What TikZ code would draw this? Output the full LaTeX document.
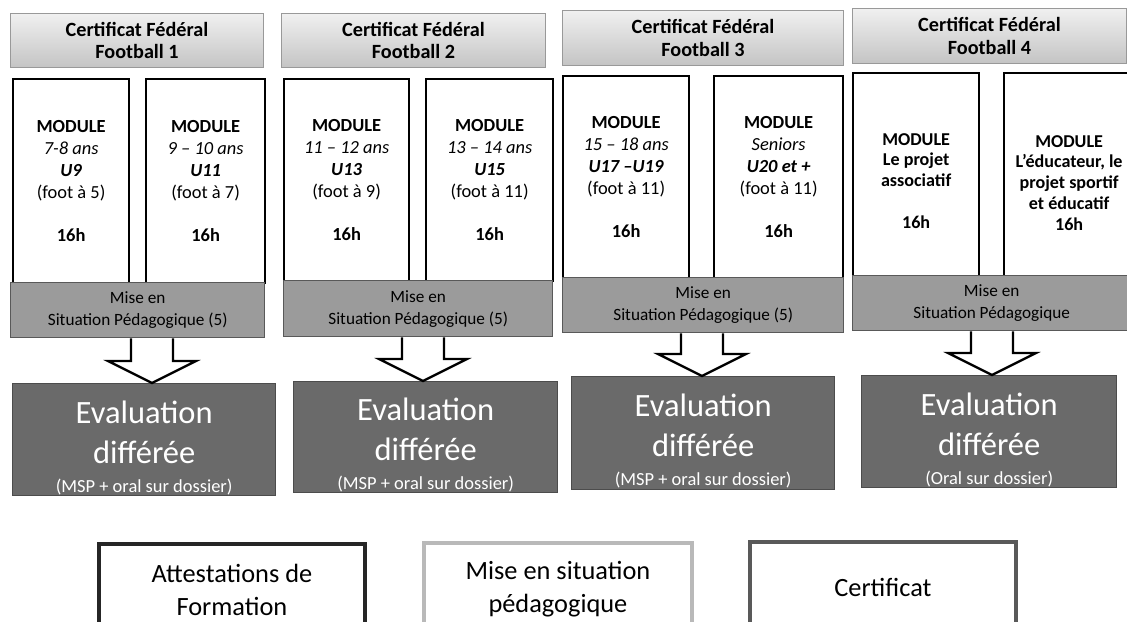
\documentclass[tikz,border=0pt]{standalone}
\usepackage{fontspec}
\setmainfont{Carlito}
\usetikzlibrary{calc}

\definecolor{mspgray}{RGB}{155,155,155}
\definecolor{evalgray}{RGB}{106,106,106}
\definecolor{headtop}{RGB}{240,240,240}
\definecolor{headbot}{RGB}{196,196,196}

\tikzset{
  sz/.style 2 args={anchor=north west, minimum width=#1*0.02cm, minimum height=#2*0.02cm, inner sep=0pt},
}

\begin{document}
\begin{tikzpicture}[x=0.02cm, y=-0.02cm,
  head/.style={draw=gray!80, line width=0.6pt, top color=headtop, bottom color=headbot, align=center,
    font=\bfseries\fontsize{11.5}{13}\selectfont},
  module/.style={draw=black, line width=1.3pt, fill=white, align=center,
    font=\fontsize{10.5}{12.5}\selectfont},
  msp/.style={draw=gray!70!black, line width=0.8pt, fill=mspgray, align=center,
    font=\fontsize{9.8}{12.5}\selectfont},
  eval/.style={draw=gray!60!black, line width=0.8pt, fill=evalgray, text=white, align=center,
    font=\fontsize{18.5}{22.5}\selectfont},
  barrow/.style={draw=black, line width=1.3pt, fill=white, line join=miter},
  legend/.style={line width=2.2pt, fill=white, align=center, font=\fontsize{15}{18.7}\selectfont}]

\clip (0,0) rectangle (1127,622);

% Certificat Federal Football 1
\node[head, sz={253}{54}] (cf1) at (10,13) {Certificat Fédéral\\Football 1};
\node[module, sz={116}{204}] (m1a) at (12,78) {\textbf{MODULE}\\\textit{7-8 ans}\\\textbf{\textit{U9}}\\(foot à 5)\\[12pt]\textbf{16h}};
\node[module, sz={119}{204}] (m1b) at (145,78) {\textbf{MODULE}\\\textit{9 – 10 ans}\\\textbf{\textit{U11}}\\(foot à 7)\\[12pt]\textbf{16h}};
\node[msp, sz={254}{55}] (msp1) at (10,282) {Mise en\\Situation Pédagogique (5)};
\node[eval, sz={263}{112}] (ev1) at (12,383) {\rule{0pt}{22pt}Evaluation\\différée\\[-6pt]{\fontsize{10.5}{12}\selectfont (MSP + oral sur dossier)}};

% Certificat Federal Football 2
\node[head, sz={264}{54}] (cf2) at (281,13) {Certificat Fédéral\\Football 2};
\node[module, sz={125}{202}] (m2a) at (283,78) {\textbf{MODULE}\\\textit{11 – 12 ans}\\\textbf{\textit{U13}}\\(foot à 9)\\[12pt]\textbf{16h}};
\node[module, sz={127}{202}] (m2b) at (425,78) {\textbf{MODULE}\\\textit{13 – 14 ans}\\\textbf{\textit{U15}}\\(foot à 11)\\[12pt]\textbf{16h}};
\node[msp, sz={269}{56}] (msp2) at (283,280) {Mise en\\Situation Pédagogique (5)};
\node[eval, sz={264}{111}] (ev2) at (293,381) {\rule{0pt}{22pt}Evaluation\\différée\\[-6pt]{\fontsize{10.5}{12}\selectfont (MSP + oral sur dossier)}};

% Certificat Federal Football 3
\node[head, sz={281}{55}] (cf3) at (562,10) {Certificat Fédéral\\Football 3};
\node[module, sz={126}{202}] (m3a) at (562,75) {\textbf{MODULE}\\\textit{15 – 18 ans}\\\textbf{\textit{U17 –U19}}\\(foot à 11)\\[12pt]\textbf{16h}};
\node[module, sz={129}{202}] (m3b) at (713,75) {\textbf{MODULE}\\\textit{Seniors}\\\textbf{\textit{U20 et +}}\\(foot à 11)\\[12pt]\textbf{16h}};
\node[msp, sz={281}{55}] (msp3) at (562,277) {Mise en\\Situation Pédagogique (5)};
\node[eval, sz={263}{113}] (ev3) at (571,376) {\rule{0pt}{22pt}Evaluation\\différée\\[-6pt]{\fontsize{10.5}{12}\selectfont (MSP + oral sur dossier)}};

% Certificat Federal Football 4
\node[head, sz={274}{55}] (cf4) at (852,8) {Certificat Fédéral\\Football 4};
\node[module, sz={126}{203}, font=\bfseries\fontsize{10.3}{11.8}\selectfont] (m4a) at (852,72) {\rule{0pt}{14pt}MODULE\\Le projet\\associatif\\[12pt]16h};
\node[module, sz={130}{203}, font=\bfseries\fontsize{10.3}{11.8}\selectfont] (m4b) at (1003,72) {\rule{0pt}{16pt}MODULE\\L’éducateur, le\\projet sportif\\et éducatif\\16h};
\node[msp, sz={278}{55}] (msp4) at (852,275) {Mise en\\Situation Pédagogique};
\node[eval, sz={255}{112}] (ev4) at (861,375) {\rule{0pt}{22pt}Evaluation\\différée\\[-6pt]{\fontsize{10.5}{12}\selectfont (Oral sur dossier)}};

% block arrows
\foreach \n/\x in {1/152,2/423,3/702,4/992}{
  \coordinate (c\n) at (\x,0);
  \draw[barrow] ($(c\n |- msp\n.south)+(-21,0)$) -- ($(c\n |- ev\n.north)+(-21,-22)$) -- ++(-23,0)
    -- (c\n |- ev\n.north) -- ++(44,-22) -- ++(-23,0) -- ($(c\n |- msp\n.south)+(21,0)$);
}

% legend
\node[legend, draw=black!85, sz={266}{92}] (lg1) at (97,542) {Attestations de\\Formation};
\node[legend, draw=gray!55, sz={268}{92}] (lg2) at (422,541) {Mise en situation\\pédagogique};
\node[legend, draw=black!65, sz={266}{92}] (lg3) at (748,540) {Certificat};

\end{tikzpicture}
\end{document}
